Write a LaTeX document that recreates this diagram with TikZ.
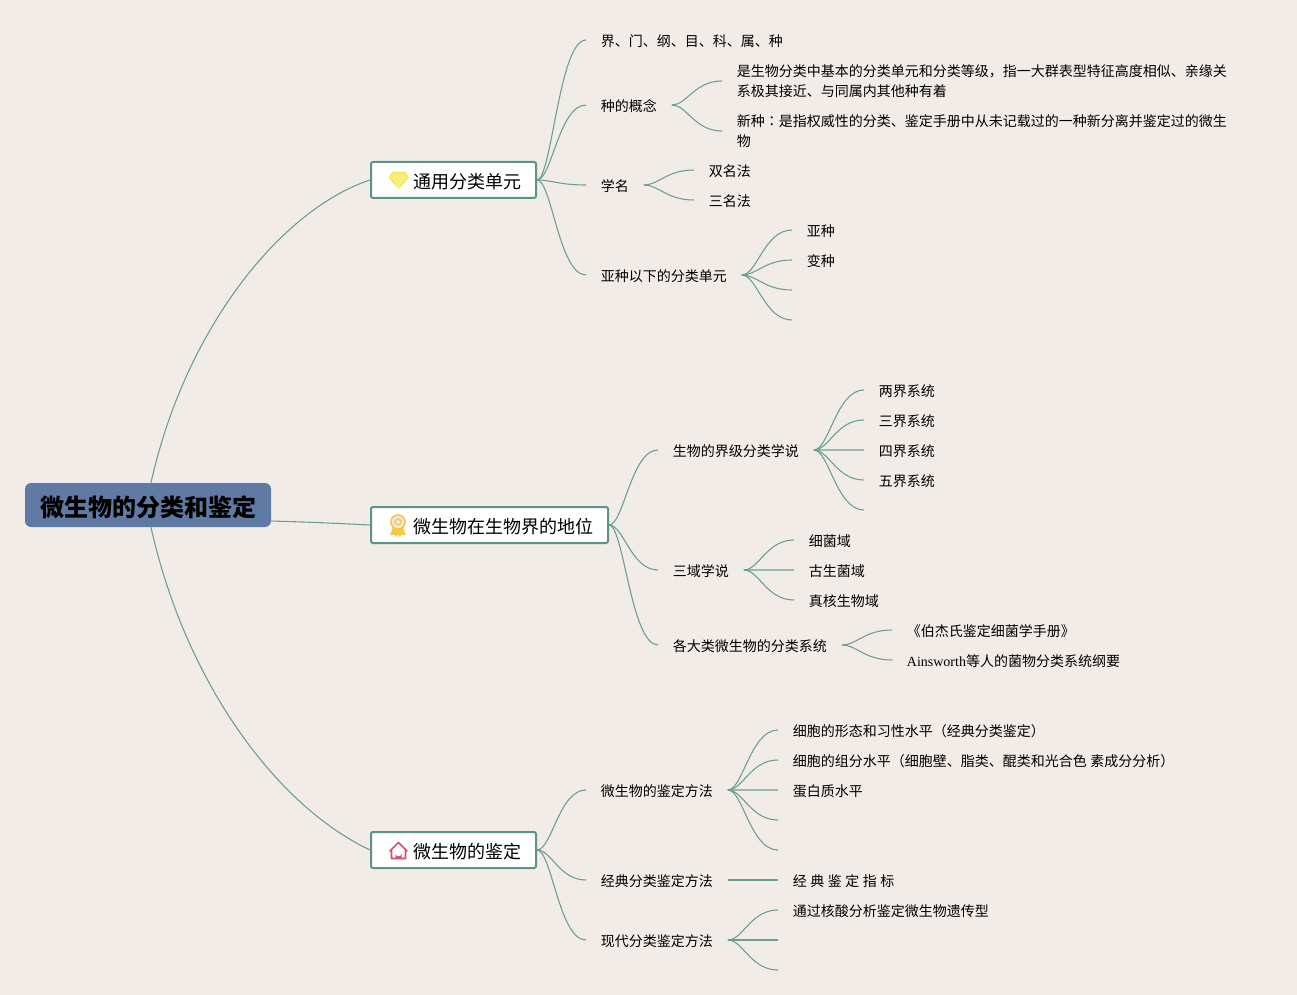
\documentclass[tikz,border=0pt]{standalone}
\usepackage{fontspec}
\usetikzlibrary{calc}
\setmainfont{Noto Sans CJK SC}
\newfontfamily\latfont{Liberation Serif}
\newfontfamily\tcfont{Noto Sans CJK TC}
\newcommand{\zsp}{\hspace*{2.6pt}}
\definecolor{bgc}{HTML}{F1ECE7}
\definecolor{rootc}{HTML}{5F7AA3}
\definecolor{linkc}{HTML}{6A9E8D}
\definecolor{boxc}{HTML}{5B9484}
\definecolor{gemc}{HTML}{F4E73F}
\definecolor{medalc}{HTML}{F5C84A}
\definecolor{housec}{HTML}{DB4A6E}
\tikzset{
  x=0.75pt,y=-0.75pt,
  rootbox/.style={draw=none,fill=rootc,rounded corners=4.5pt,minimum width=184.5pt,minimum height=33pt,inner sep=0pt,text height=20pt,text depth=2.2pt,font=\fontsize{18}{22}\selectfont\bfseries,text=black},
  branchbox/.style={draw=boxc,line width=1.5pt,fill=white,rounded corners=1.5pt,anchor=west,minimum height=27pt,inner ysep=0pt,inner xsep=11.25pt,text height=14.6pt,text depth=2pt,font=\fontsize{13.5}{16}\selectfont,text=black},
  mline/.style={anchor=west,inner xsep=11pt,inner ysep=0pt,font=\fontsize{10.5}{15}\selectfont,text=black,align=left},
  leaf/.style={mline,text height=11.8pt,text depth=1.7pt},
  link/.style={draw=linkc,line width=0.8pt,to path={.. controls ($(\tikztostart)!0.3!(\tikztotarget |- \tikztostart)$) and ($(\tikztotarget)!0.55!(\tikztostart |- \tikztotarget)$) .. (\tikztotarget) \tikztonodes}},
  rootlink/.style={draw=linkc,line width=0.8pt},
  icon/.style={line width=1pt,line join=round,line cap=round}
}
\begin{document}
\begin{tikzpicture}
\useasboundingbox (0,0) rectangle (1297,995);
\fill[bgc] (0,0) rectangle (1297,995);
% main nodes
\node[rootbox] (root) at (148,505) {\hspace*{1.5pt}微生物的分类和鉴定};
\node[branchbox] (b1) at (370,180) {\hspace*{20.25pt}通用分类单元};
\node[branchbox] (b2) at (370,525) {\hspace*{20.25pt}微生物在生物界的地位};
\node[branchbox] (b3) at (370,850) {\hspace*{20.25pt}微生物的鉴定};
% group 1
\node[leaf] (a1) at (586,40) {界、门、纲、目、科、属、种};
\node[leaf] (a2) at (586,105) {种的概念};
\node[mline] (a21) at (722,81) {是生物分类中基本的分类单元和分类等级，指一大群表型特征高度相似、亲缘关\\系极其接近、与同属内其他种有着};
\node[mline] (a22) at (722,131) {新种{\tcfont ：}是指权威性的分类、鉴定手册中从未记载过的一种新分离并鉴定过的微生\\物};
\node[leaf] (a3) at (586,185) {学名};
\node[leaf] (a31) at (694,170) {双名法};
\node[leaf] (a32) at (694,200) {三名法};
\node[leaf] (a4) at (586,275) {亚种以下的分类单元};
\node[leaf] (a41) at (792,230) {亚种};
\node[leaf] (a42) at (792,260) {变种};
\coordinate (a43) at (792,290);
\coordinate (a44) at (792,320);
% group 2
\node[leaf] (c1) at (658,450) {生物的界级分类学说};
\node[leaf] (c11) at (864,390) {两界系统};
\node[leaf] (c12) at (864,420) {三界系统};
\node[leaf] (c13) at (864,450) {四界系统};
\node[leaf] (c14) at (864,480) {五界系统};
\coordinate (c15) at (864,510);
\node[leaf] (c2) at (658,570) {三域学说};
\node[leaf] (c21) at (794,540) {细菌域};
\node[leaf] (c22) at (794,570) {古生菌域};
\node[leaf] (c23) at (794,600) {真核生物域};
\node[leaf] (c3) at (658,645) {各大类微生物的分类系统};
\node[leaf] (c31) at (892,630) {《伯杰氏鉴定细菌学手册》};
\node[leaf] (c32) at (892,660) {{\latfont Ainsworth}等人的菌物分类系统纲要};
% group 3
\node[leaf] (d1) at (586,790) {微生物的鉴定方法};
\node[leaf] (d11) at (778,730) {细胞的形态和习性水平（经典分类鉴定）};
\node[leaf] (d12) at (778,760) {细胞的组分水平（细胞壁、脂类、醌类和光合色\zsp 素成分分析）};
\node[leaf] (d13) at (778,790) {蛋白质水平};
\coordinate (d14) at (778,820);
\coordinate (d15) at (778,850);
\node[leaf] (d2) at (586,880) {经典分类鉴定方法};
\node[leaf] (d21) at (778,880) {经\zsp 典\zsp 鉴\zsp 定\zsp 指\zsp 标};
\node[leaf] (d3) at (586,940) {现代分类鉴定方法};
\node[leaf] (d31) at (778,910) {通过核酸分析鉴定微生物遗传型};
\coordinate (d32) at (778,940);
\coordinate (d33) at (778,970);
% root connectors
\draw[rootlink] ($(root.north)+(3,0)$) .. controls +(34,-153) and +(-90,30) .. (b1.west);
\draw[rootlink] (root.east) ++(0,16) .. controls +(30,1) and +(-60,-3) .. (b2.west);
\draw[rootlink] ($(root.south)+(3,0)$) .. controls +(34,153) and +(-95,-45) .. (b3.west);
% connectors
\foreach \p/\c in {b1/a1,b1/a2,b1/a3,b1/a4,a2/a21,a2/a22,a3/a31,a3/a32,a4/a41,a4/a42,
  b2/c1,b2/c2,b2/c3,c1/c11,c1/c12,c1/c13,c1/c14,c2/c21,c2/c22,c2/c23,c3/c31,c3/c32,
  b3/d1,b3/d2,b3/d3,d1/d11,d1/d12,d1/d13,d2/d21,d3/d31}
  \draw[link] (\p.east) to (\c.west);
\foreach \p/\c in {a4/a43,a4/a44,c1/c15,d1/d14,d1/d15,d3/d32,d3/d33}
  \draw[link] (\p.east) to (\c);
% gem icon
\begin{scope}[shift={(b1.west)}]
  \draw[icon,draw=gemc,fill=gemc!70!white] (19.5,-2.5) -- (23,-7.5) -- (35,-7.5) -- (38,-2.5) -- (28.5,8) -- cycle;
  \draw[icon,draw=gemc!55!white,line width=.7pt] (19.5,-2.5) -- (38,-2.5) (24,-2.5) -- (28.5,8) -- (33,-2.5);
\end{scope}
% medal icon
\begin{scope}[shift={(b2.west)}]
  \draw[icon,draw=medalc,fill=medalc,line width=.9pt] (23.5,2) -- (21,9.5) -- (24.5,9) -- (26.5,11) -- (28,6) -- (29.5,11) -- (31.5,9) -- (35,9.5) -- (32.5,2) -- cycle;
  \draw[icon,draw=medalc,line width=1.3pt,fill=bgc] (28,-3) circle[radius=7];
  \draw[icon,draw=medalc,line width=1.1pt] (28,-3) circle[radius=3];
\end{scope}
% house icon
\begin{scope}[shift={(b3.west)}]
  \draw[icon,draw=housec,line width=1.2pt] (20,1) -- (28.5,-7.5) -- (37,1) (21.5,0) -- (21.5,8.5) -- (35.5,8.5) -- (35.5,0);
  \fill[housec] (25.5,9) -- (25.5,3.5) arc[start angle=180,end angle=0,radius=3] -- (31.5,9) -- cycle;
\end{scope}
\end{tikzpicture}
\end{document}
